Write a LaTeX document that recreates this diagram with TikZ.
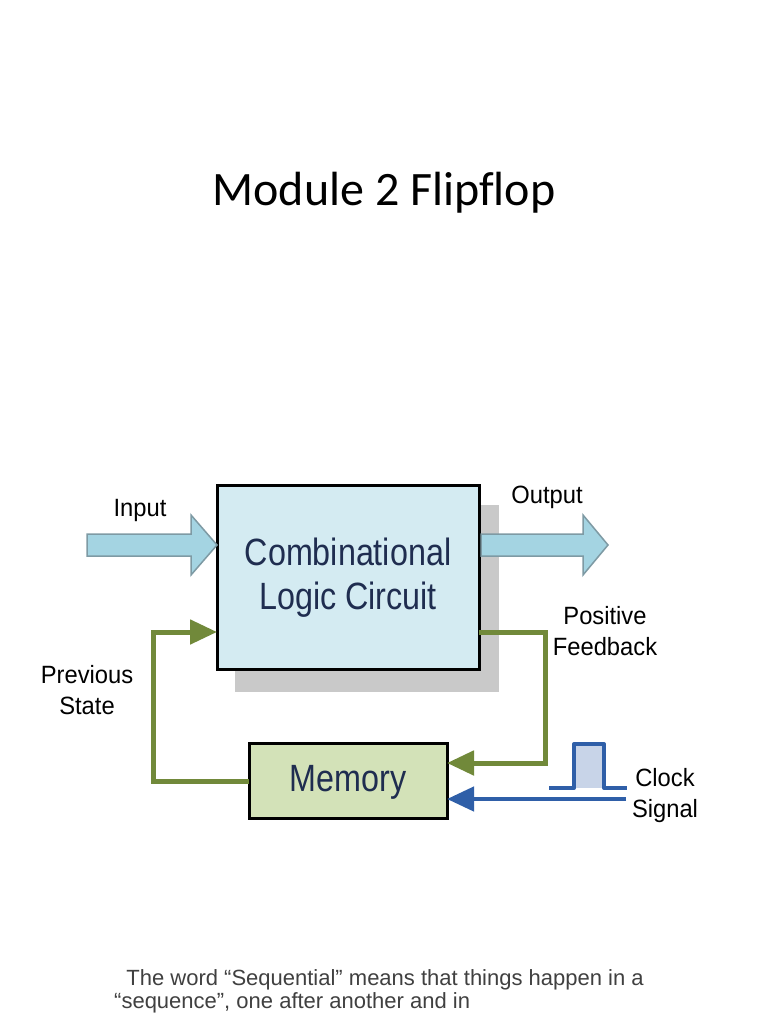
\documentclass[tikz,border=0pt]{standalone}
\usepackage{fontspec}
\setmainfont{Liberation Sans}
\newfontfamily\titlefont[Ligatures={NoCommon}]{Carlito}
\newfontfamily\narrowfont[FakeStretch=0.95]{Liberation Sans}
\newfontfamily\boxfont[FakeStretch=0.85]{Liberation Sans}
\usetikzlibrary{arrows.meta}
\definecolor{boxblue}{HTML}{D4EBF2}
\definecolor{arrowblue}{HTML}{A4D4E2}
\definecolor{arrowedge}{HTML}{7E9AA4}
\definecolor{fbgreen}{HTML}{71893A}
\definecolor{memgreen}{HTML}{D3E2B8}
\definecolor{clkblue}{HTML}{2F5FA8}
\definecolor{pulsefill}{HTML}{C8D4E8}
\definecolor{navy}{HTML}{1F2D50}
\definecolor{shadowgray}{HTML}{C9C9C9}
\definecolor{bodygray}{HTML}{404040}
\tikzset{
  blockbox/.style={draw=black, line width=3pt, inner sep=0pt, outer sep=0pt},
  lbl/.style={font=\narrowfont\fontsize{25}{31}\selectfont, text=black, align=center, inner sep=0pt},
  boxtext/.style={font=\boxfont\fontsize{38}{44}\selectfont, text=navy, align=center},
  fbline/.style={draw=fbgreen, line width=5pt, -{Triangle[length=27pt,width=24pt]}},
  clkline/.style={draw=clkblue, line width=4.5pt, -{Triangle[length=27pt,width=24pt]}},
  blockarrow/.style={fill=arrowblue, draw=arrowedge, line width=1.5pt},
}
\begin{document}
\begin{tikzpicture}[x=1pt,y=-1pt]
\useasboundingbox (0,0) rectangle (768,1024);
\fill[white] (0,0) rectangle (768,1024);
% title
\node[font=\titlefont\fontsize{48}{56}\selectfont, anchor=base] (title) at (384,206) {Module 2 Flipflop};
% shadow
\fill[shadowgray] (235,505) rectangle (499,692);
% main box
\node[blockbox, fill=boxblue, minimum width=262pt, minimum height=184pt, anchor=north west] (clc) at (217,485) {};
\node[boxtext] (clctext) at (348,578) {Combinational\\Logic Circuit};
% memory
\node[blockbox, fill=memgreen, minimum width=198pt, minimum height=75pt, anchor=north west] (mem) at (249,743) {};
\node[boxtext] (memtext) at (348,782) {Memory};
% input block arrow
\draw[blockarrow, line join=miter] (87,534) -- (191,534) -- (191,515) -- (217,545) -- (191,575) -- (191,556) -- (87,556) -- cycle;
\node[lbl, anchor=base] (inlbl) at (140,516) {Input};
% output block arrow
\draw[blockarrow, line join=miter] (481,534) -- (583,534) -- (583,515) -- (608,545) -- (583,575) -- (583,556) -- (481,556) -- cycle;
\node[lbl, anchor=base] (outlbl) at (547,503) {Output};
% feedback
\coordinate (fbstart) at (clc.east |- 0,632);
\coordinate (fbend) at (mem.east |- 0,763);
\draw[fbline] (fbstart) -- (545,632) -- (545,763) -- (fbend);
\coordinate (psstart) at (mem.west |- 0,781);
\coordinate (psend) at (clc.west |- 0,632);
\draw[fbline] (psstart) -- (153,781) -- (153,632) -- (psend);
\node[lbl] (poslbl) at (605,631) {Positive\\Feedback};
\node[lbl] (prevlbl) at (87,690) {Previous\\State};
% clock
\fill[pulsefill] (574,744) rectangle (604,788);
\draw[clkblue, line width=4pt, line join=round] (549,788) -- (574,788) -- (574,744) -- (604,744) -- (604,788) -- (627,788);
\coordinate (clkstart) at (626,799);
\coordinate (clkend) at (mem.east |- 0,799);
\draw[clkline] (clkstart) -- (clkend);
\node[lbl] (clklbl) at (665,796) {Clock\\Signal};
% body text
\node[font=\fontsize{22}{23}\selectfont, text=bodygray, anchor=base west, align=left, inner sep=0pt] (body) at (114,1008) {\ \ The word “Sequential” means that things happen in a\\“sequence”, one after another and in};
\end{tikzpicture}
\end{document}
